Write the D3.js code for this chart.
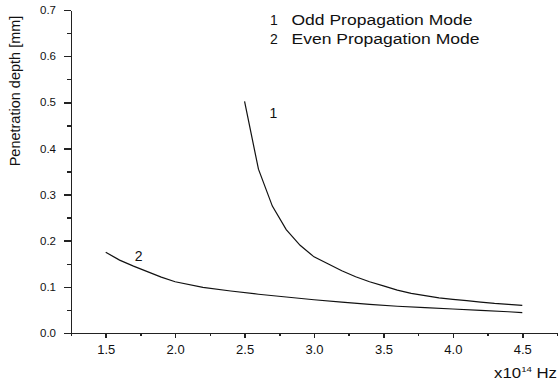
<!DOCTYPE html>
<html>
<head>
<meta charset="utf-8">
<title></title>
<script src="https://cdn.jsdelivr.net/npm/d3@7"></script>
<style type="text/css">
  body { margin: 0; background: #fff; }
  svg text { font-family: "Liberation Sans", Arial, sans-serif; fill: #111; }
  .axis path, .axis line { stroke: #222; stroke-width: 1.5; shape-rendering: crispEdges; }
  .x-axis text { font-size: 13px; }
  .y-axis text { font-size: 11.5px; }
</style>
</head>
<body>
<script>
  // frequency (x10^14 Hz) and penetration depth (mm)
  var oddFreq  = [2.5, 2.6, 2.7, 2.8, 2.9, 3.0, 3.1, 3.2, 3.3, 3.4, 3.5, 3.6, 3.7, 3.8, 3.9, 4.0, 4.1, 4.2, 4.3, 4.4, 4.5];
  var oddDepth = [0.502, 0.355, 0.275, 0.224, 0.190, 0.165, 0.150, 0.135, 0.122, 0.111, 0.102, 0.093, 0.086, 0.081, 0.076, 0.073, 0.070, 0.067, 0.064, 0.062, 0.060];
  var evenFreq  = [1.5, 1.6, 1.7, 1.8, 1.9, 2.0, 2.2, 2.4, 2.6, 2.8, 3.0, 3.2, 3.4, 3.6, 3.8, 4.0, 4.2, 4.4, 4.5];
  var evenDepth = [0.175, 0.158, 0.145, 0.133, 0.121, 0.111, 0.099, 0.091, 0.084, 0.078, 0.072, 0.067, 0.062, 0.058, 0.055, 0.052, 0.049, 0.046, 0.044];
  var xTicks = [1.5, 2.0, 2.5, 3.0, 3.5, 4.0, 4.5];
  var yTicks = [0.0, 0.1, 0.2, 0.3, 0.4, 0.5, 0.6, 0.7];
  var legendLabels = ["Odd Propagation Mode", "Even Propagation Mode"];

  var w = 559, h = 387;
  var mLeft = 71, mRight = 557, mTop = 10, mBottom = 333;

  var svg = d3.select("body").append("svg")
              .attr("width", w)
              .attr("height", h);

  var xScale = d3.scaleLinear().domain([1.25, 4.75]).range([mLeft, mRight]);
  var yScale = d3.scaleLinear().domain([0, 0.7]).range([mBottom, mTop]);

  // minor ticks
  svg.append("g")
     .attr("class", "axis")
     .attr("transform", "translate(0," + mBottom + ")")
     .call(d3.axisBottom(xScale).tickValues(d3.range(1.25, 4.76, 0.25)).tickSize(3).tickFormat(""))
     .select(".domain").remove();

  svg.append("g")
     .attr("class", "axis")
     .attr("transform", "translate(" + mLeft + ",0)")
     .call(d3.axisLeft(yScale).tickValues(d3.range(0, 0.701, 0.05)).tickSize(4).tickFormat(""))
     .select(".domain").remove();

  // major ticks + labels
  svg.append("g")
     .attr("class", "axis x-axis")
     .attr("transform", "translate(0," + mBottom + ")")
     .call(d3.axisBottom(xScale).tickValues(xTicks).tickSize(5).tickSizeOuter(0).tickPadding(7).tickFormat(d3.format(".1f")));

  svg.append("g")
     .attr("class", "axis y-axis")
     .attr("transform", "translate(" + mLeft + ",0)")
     .call(d3.axisLeft(yScale).tickValues(yTicks).tickSize(7).tickSizeOuter(0).tickPadding(8).tickFormat(d3.format(".1f")));

  var line = d3.line()
               .x(function (d) { return xScale(d[0]); })
               .y(function (d) { return yScale(d[1]); });

  [d3.zip(oddFreq, oddDepth), d3.zip(evenFreq, evenDepth)].forEach(function (pts) {
    svg.append("path")
       .datum(pts)
       .attr("d", line)
       .attr("fill", "none")
       .attr("stroke", "#111")
       .attr("stroke-width", 1.2);
  });

  // curve labels
  svg.append("text").attr("x", xScale(2.68)).attr("y", yScale(0.465))
     .attr("font-size", 14).text("1");
  svg.append("text").attr("x", xScale(1.71)).attr("y", yScale(0.155))
     .attr("font-size", 14).text("2");

  // legend (text in the original is a bit stretched sideways)
  var legendWidths = [181, 188];
  legendLabels.forEach(function (t, i) {
    var y = 25 + i * 19;
    svg.append("text").attr("x", 270).attr("y", y).attr("font-size", 14).text(i + 1);
    svg.append("text")
       .attr("x", 291.5)
       .attr("y", y)
       .attr("font-size", 14)
       .attr("textLength", legendWidths[i])
       .attr("lengthAdjust", "spacingAndGlyphs")
       .text(t);
  });

  // axis titles
  svg.append("text")
     .attr("transform", "translate(20,91) rotate(-90)")
     .attr("text-anchor", "middle")
     .attr("font-size", 14.5)
     .text("Penetration depth [mm]");

  var xt = svg.append("text")
              .attr("transform", "translate(557,378) scale(1.2,1)")
              .attr("text-anchor", "end")
              .attr("font-size", 14);
  xt.append("tspan").text("x10");
  xt.append("tspan").attr("font-size", 8).attr("dy", -6).text("14");
  xt.append("tspan").attr("dy", 6).text(" Hz");
</script>
</body>
</html>
